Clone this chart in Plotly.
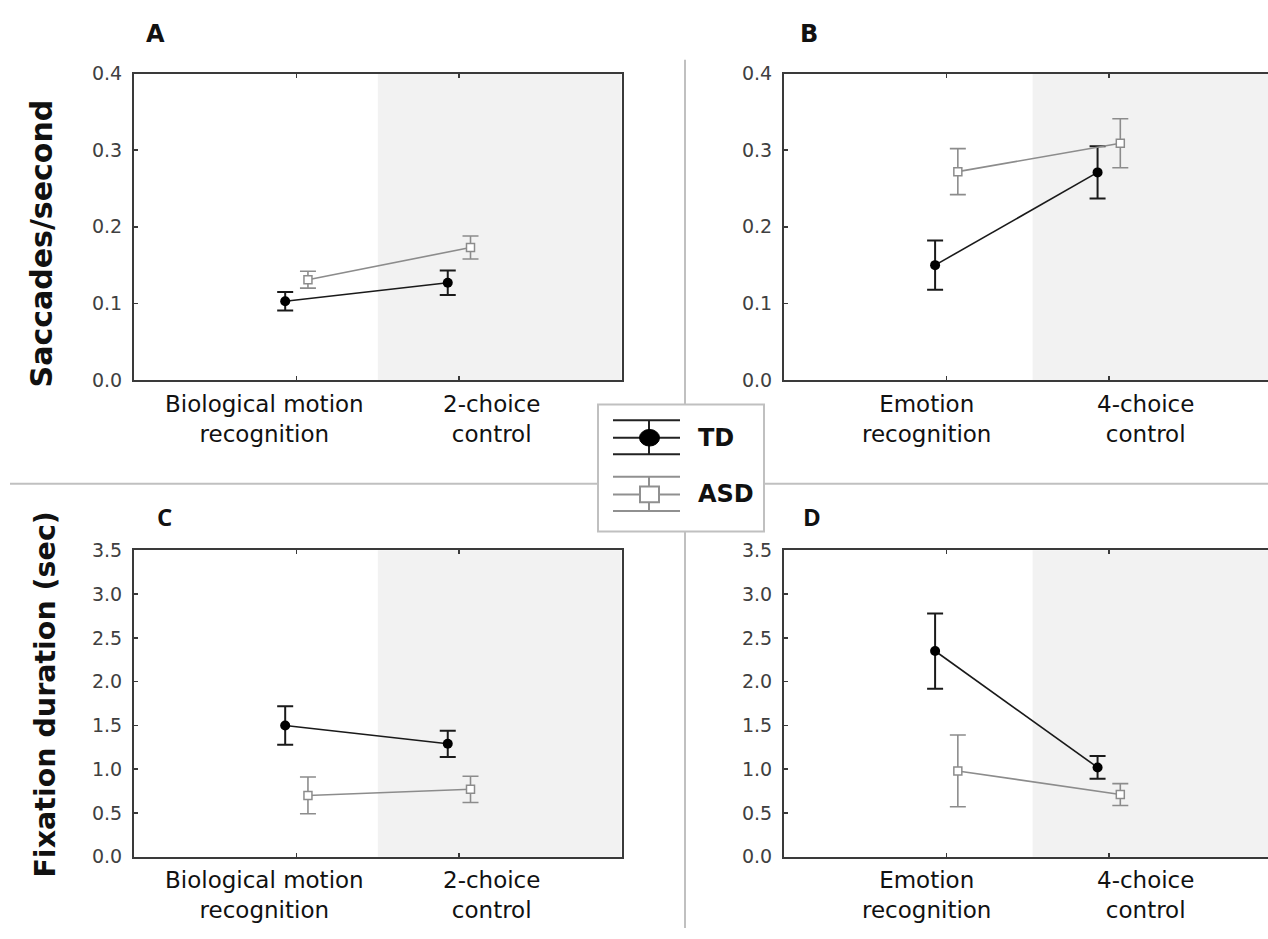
import plotly.graph_objects as go

W, H = 1268, 939

# ---------------- data ----------------
cat_index = [0, 1]
cat_labels_bio = ["Biological motion<br>recognition", "2-choice<br>control"]
cat_labels_emo = ["Emotion<br>recognition", "4-choice<br>control"]
groups = ["TD", "ASD"]

sacc_ticks = [0.0, 0.1, 0.2, 0.3, 0.4]
fix_ticks = [0.0, 0.5, 1.0, 1.5, 2.0, 2.5, 3.0, 3.5]

# Panel A: saccades/second, biological motion
a_td = [0.103, 0.127]
a_td_err = [0.012, 0.016]
a_asd = [0.131, 0.173]
a_asd_err = [0.011, 0.015]

# Panel B: saccades/second, emotion
b_td = [0.150, 0.271]
b_td_err = [0.032, 0.034]
b_asd = [0.272, 0.309]
b_asd_err = [0.030, 0.032]

# Panel C: fixation duration, biological motion
c_td = [1.50, 1.29]
c_td_err = [0.22, 0.15]
c_asd = [0.70, 0.77]
c_asd_err = [0.21, 0.15]

# Panel D: fixation duration, emotion
d_td = [2.35, 1.02]
d_td_err = [0.43, 0.13]
d_asd = [0.98, 0.71]
d_asd_err = [0.41, 0.125]

# ---------------- helpers ----------------
def px(x):
    return x / W

def py(y):
    return 1 - y / H

TD_COL = "#1a1a1a"
ASD_COL = "#8c8c8c"
AX_COL = "#3a3a3a"
DIV_COL = "#c0c0c0"
FONT = "DejaVu Sans"
DODGE = 0.07

fig = go.Figure()

panels = [
    ("", a_td, a_td_err, a_asd, a_asd_err, (134, 621.7), (64, 378), [0, 0.4], sacc_ticks, cat_labels_bio, True),
    ("2", b_td, b_td_err, b_asd, b_asd_err, (784, 1268), (64, 378), [0, 0.4], sacc_ticks, cat_labels_emo, False),
    ("3", c_td, c_td_err, c_asd, c_asd_err, (134, 621.7), (552.3, 866), [0, 3.5], fix_ticks, cat_labels_bio, True),
    ("4", d_td, d_td_err, d_asd, d_asd_err, (784, 1268), (552.3, 866), [0, 3.5], fix_ticks, cat_labels_emo, False),
]

shapes = []
annotations = []

for suf, td, tde, asd, asde, xd, yd, yr, yt, labs, left in panels:
    xa = "x" + suf
    ya = "y" + suf
    fig.add_trace(go.Scatter(
        x=[i - DODGE for i in cat_index], y=td, xaxis=xa, yaxis=ya,
        mode="lines+markers", showlegend=False,
        line=dict(color=TD_COL, width=1.6),
        marker=dict(symbol="circle", size=10, color="black"),
        error_y=dict(type="data", array=tde, visible=True, color=TD_COL, thickness=2, width=8),
    ))
    fig.add_trace(go.Scatter(
        x=[i + DODGE for i in cat_index], y=asd, xaxis=xa, yaxis=ya,
        mode="lines+markers", showlegend=False,
        line=dict(color=ASD_COL, width=1.6),
        marker=dict(symbol="square", size=8, color="white", line=dict(color=ASD_COL, width=1.5)),
        error_y=dict(type="data", array=asde, visible=True, color=ASD_COL, thickness=1.6, width=8),
    ))
    xr = [-1, 2] if left else [-1, 1.979]
    xkey = "xaxis" + suf
    ykey = "yaxis" + suf
    fig.layout[xkey] = dict(
        domain=[px(xd[0]), px(xd[1])], range=xr, anchor=ya,
        tickvals=cat_index, ticktext=["", ""], ticks="inside", ticklen=4, tickwidth=1.5,
        tickcolor=AX_COL, showline=True, linecolor=AX_COL, linewidth=2,
        mirror="ticks", showgrid=False, zeroline=False, fixedrange=True,
    )
    fig.layout[ykey] = dict(
        domain=[py(yd[1]), py(yd[0])], range=yr, anchor=xa,
        tickvals=yt, tickformat=".1f", ticks="inside", ticklen=4, tickwidth=1.5,
        tickcolor=AX_COL, showline=True, linecolor=AX_COL, linewidth=2,
        mirror=True if left else False, showgrid=False, zeroline=False,
        tickfont=dict(family=FONT, size=19, color="#404040"),
        ticklabelstandoff=6, fixedrange=True,
    )
    shapes.append(dict(
        type="rect", xref=xa, yref=ya + " domain",
        x0=0.5 if left else 0.53, x1=xr[1], y0=0, y1=1,
        fillcolor="#f2f2f2", line=dict(width=0), layer="below",
    ))
    lab_x = [-0.197, 1.201] if left else [-0.121, 1.227]
    for lx, lt in zip(lab_x, labs):
        annotations.append(dict(
            x=lx, xref=xa, y=py(yd[1] + 9), yref="paper", yanchor="top", xanchor="center",
            text=lt, showarrow=False, align="center",
            font=dict(family=FONT, size=23, color="#111111"),
        ))

for letter, (lx, ly), fam in [("A", (155, 24), FONT), ("B", (809, 24), FONT),
                               ("C", (164, 518), "Open Sans"), ("D", (812, 518), "Open Sans")]:
    annotations.append(dict(
        x=px(lx), y=py(ly), xref="paper", yref="paper", xanchor="center", yanchor="middle",
        text="<b>%s</b>" % letter, showarrow=False,
        font=dict(family=fam, size=24, color="#111111"),
    ))

annotations.append(dict(
    x=px(41), y=py(238), xref="paper", yref="paper", xanchor="center", yanchor="middle",
    text="<b>Saccades/second</b>", textangle=-90, showarrow=False,
    font=dict(family=FONT, size=30, color="#111111"),
))
annotations.append(dict(
    x=px(46), y=py(700), xref="paper", yref="paper", xanchor="center", yanchor="middle",
    text="<b>Fixation duration (sec)</b>", textangle=-90, showarrow=False,
    font=dict(family=FONT, size=28.5, color="#111111"),
))

shapes += [
    dict(type="line", xref="paper", yref="paper", x0=px(10), x1=px(598), y0=py(484), y1=py(484),
         line=dict(color=DIV_COL, width=2)),
    dict(type="line", xref="paper", yref="paper", x0=px(764), x1=px(1268), y0=py(484), y1=py(484),
         line=dict(color=DIV_COL, width=2)),
    dict(type="line", xref="paper", yref="paper", x0=px(685), x1=px(685), y0=py(50), y1=py(403),
         line=dict(color=DIV_COL, width=2)),
    dict(type="line", xref="paper", yref="paper", x0=px(685), x1=px(685), y0=py(533), y1=py(939),
         line=dict(color=DIV_COL, width=2)),
    dict(type="rect", xref="paper", yref="paper", x0=px(598), x1=px(764), y0=py(533), y1=py(403),
         line=dict(color=DIV_COL, width=2), fillcolor="white"),
]

for gy, col, w, sym in [(437, "#222222", 2, "circle"), (495, "#909090", 2, "square")]:
    for dy in (-18, 0, 17):
        shapes.append(dict(type="line", xref="paper", yref="paper", x0=px(613), x1=px(680),
                           y0=py(gy + dy), y1=py(gy + dy), line=dict(color=col, width=w)))
    shapes.append(dict(type="line", xref="paper", yref="paper", x0=px(649), x1=px(649),
                       y0=py(gy - 18), y1=py(gy + 17), line=dict(color=col, width=w)))
    if sym == "circle":
        shapes.append(dict(type="circle", xref="paper", yref="paper", x0=px(639.5), x1=px(659.5),
                           y0=py(gy + 8.5), y1=py(gy - 8.5), fillcolor="black", line=dict(color="black", width=1)))
    else:
        shapes.append(dict(type="rect", xref="paper", yref="paper", x0=px(640), x1=px(659),
                           y0=py(gy + 8), y1=py(gy - 8), fillcolor="white", line=dict(color=col, width=2)))

for gname, gy in zip(groups, [437, 495]):
    annotations.append(dict(
        x=px(696), y=py(gy), xref="paper", yref="paper", xanchor="left", yanchor="middle",
        text="<b>%s</b>" % gname, showarrow=False,
        font=dict(family=FONT, size=24, color="#111111"),
    ))

fig.update_layout(
    width=W, height=H, margin=dict(l=0, r=0, t=0, b=0),
    paper_bgcolor="white", plot_bgcolor="white",
    shapes=shapes, annotations=annotations, showlegend=False,
    hovermode=False,
)

POST = (
    "document.documentElement.style.margin='0';"
    "document.body.style.margin='0';document.body.style.padding='0';"
    "document.body.style.overflow='hidden';"
    "var gd=document.getElementById('{plot_id}');"
    "gd.style.position='fixed';gd.style.left='0px';gd.style.top='0px';"
)

fig.write_html(
    "out.html",
    config={"responsive": False, "displayModeBar": False, "staticPlot": True},
    post_script=POST,
)
